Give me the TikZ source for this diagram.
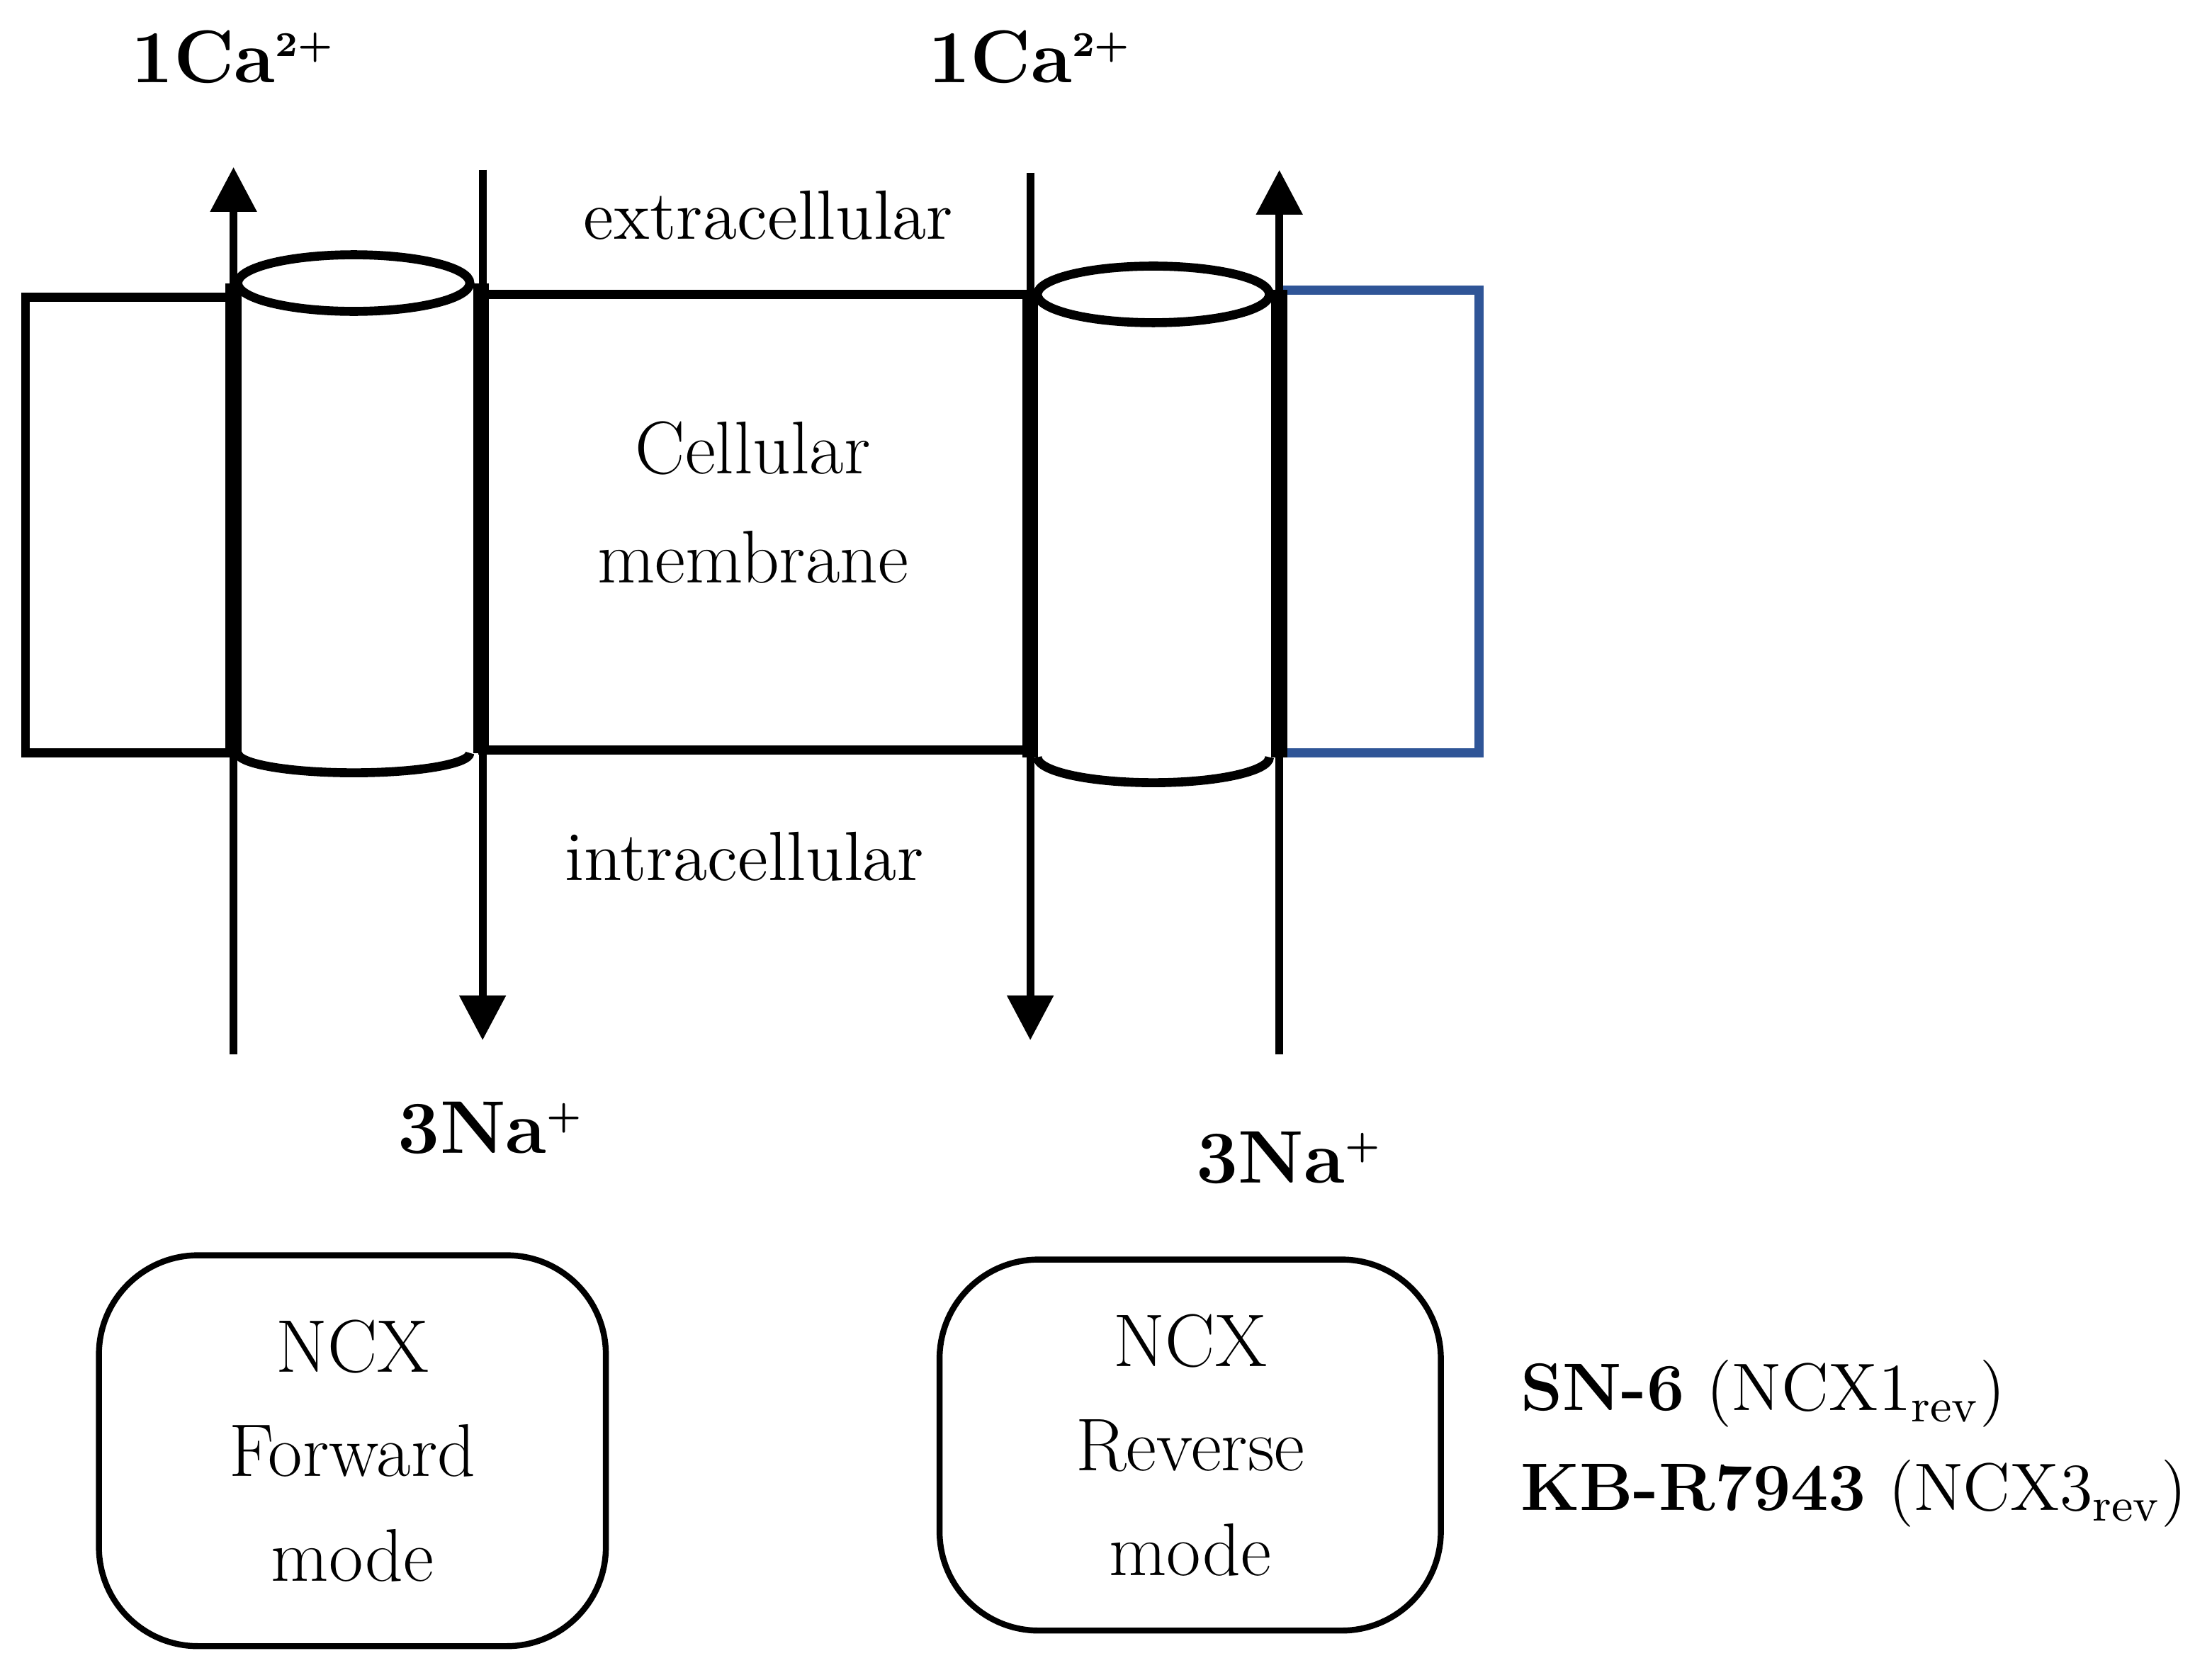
\documentclass[tikz,border=0pt]{standalone}
\usepackage{tikz}
\usetikzlibrary{positioning, arrows.meta, calc}
\definecolor{membblue}{HTML}{2F5597}
\begin{document}
\begin{tikzpicture}[x=0.01cm,y=-0.01cm,
      memb/.style={line width=1.8pt},
      ion/.style={line width=1.6pt,-{Triangle[length=9pt,width=9pt]}},
      gate/.style={line width=3.2pt},
      lbl/.style={font=\fontsize{14}{17}\selectfont},
      ionlbl/.style={font=\fontsize{15}{18}\selectfont\bfseries},
      mode/.style={draw,line width=1.2pt,rounded corners=7mm,align=center,
        font=\fontsize{15}{21}\selectfont},
      ]
      \useasboundingbox (0,0) rectangle (1563,1175);
      % membrane
      \draw[memb] (165,210) -- (18,210) -- (18,532) -- (165,532);
      \draw[memb] (338,208) -- (728,208);
      \draw[memb] (338,530) -- (728,530);
      \draw[memb,membblue] (904,205) -- (1045,205) -- (1045,532) -- (904,532);
      % channels
      \draw[memb] (250,200) ellipse (82 and 20);
      \draw[memb] (168,532) arc[start angle=180,end angle=0,x radius=82,y radius=14];
      \draw[memb] (815,208) ellipse (82 and 20);
      \draw[memb] (733,535) arc[start angle=180,end angle=0,x radius=82,y radius=18];
      % ion paths
      \coordinate (caInA) at (165,745);
      \coordinate (caOutA) at (165,118);
      \coordinate (naOutA) at (341,120);
      \coordinate (naInA) at (341,735);
      \coordinate (caOutB) at (728,122);
      \coordinate (caInB) at (728,735);
      \coordinate (naInB) at (904,745);
      \coordinate (naOutB) at (904,120);
      \draw[ion] (caInA) -- (caOutA);
      \draw[ion] (naOutA) -- (naInA);
      \draw[ion] (caOutB) -- (caInB);
      \draw[ion] (naInB) -- (naOutB);
      \draw[gate] (165,200) -- (165,532);
      \draw[gate] (340,200) -- (340,532);
      \draw[gate] (728,208) -- (728,535);
      \draw[gate] (904,205) -- (904,535);
      % labels
      \node[ionlbl] (caA) at (165,40) {1Ca\textsuperscript{\scriptsize 2+}};
      \node[ionlbl] (caB) at (728,40) {1Ca\textsuperscript{\scriptsize 2+}};
      \node[ionlbl] (naA) at (347,797) {3Na\textsuperscript{\scriptsize +}};
      \node[ionlbl] (naB) at (911,818) {3Na\textsuperscript{\scriptsize +}};
      \node[lbl] (extra) at (543,152) {extracellular};
      \node[lbl,align=center,font=\fontsize{15}{22}\selectfont] (cell) at (532,355) {Cellular\\membrane};
      \node[lbl] (intra) at (526,605) {intracellular};
      % modes
      \node[mode,text width=3.2cm,minimum width=3.58cm,minimum height=2.76cm] (fwd) at (249,1025) {NCX\\Forward\\mode};
      \node[mode,text width=3.2cm,minimum width=3.54cm,minimum height=2.62cm] (rev) at (841,1021) {NCX\\Reverse\\mode};
      \node[anchor=west,align=left,font=\fontsize{13.5}{20}\selectfont] (inhib) at (1062,1020)
        {\textbf{SN-6} (NCX1\textsubscript{rev})\\\textbf{KB-R7943} (NCX3\textsubscript{rev})};
    \end{tikzpicture}
\end{document}
